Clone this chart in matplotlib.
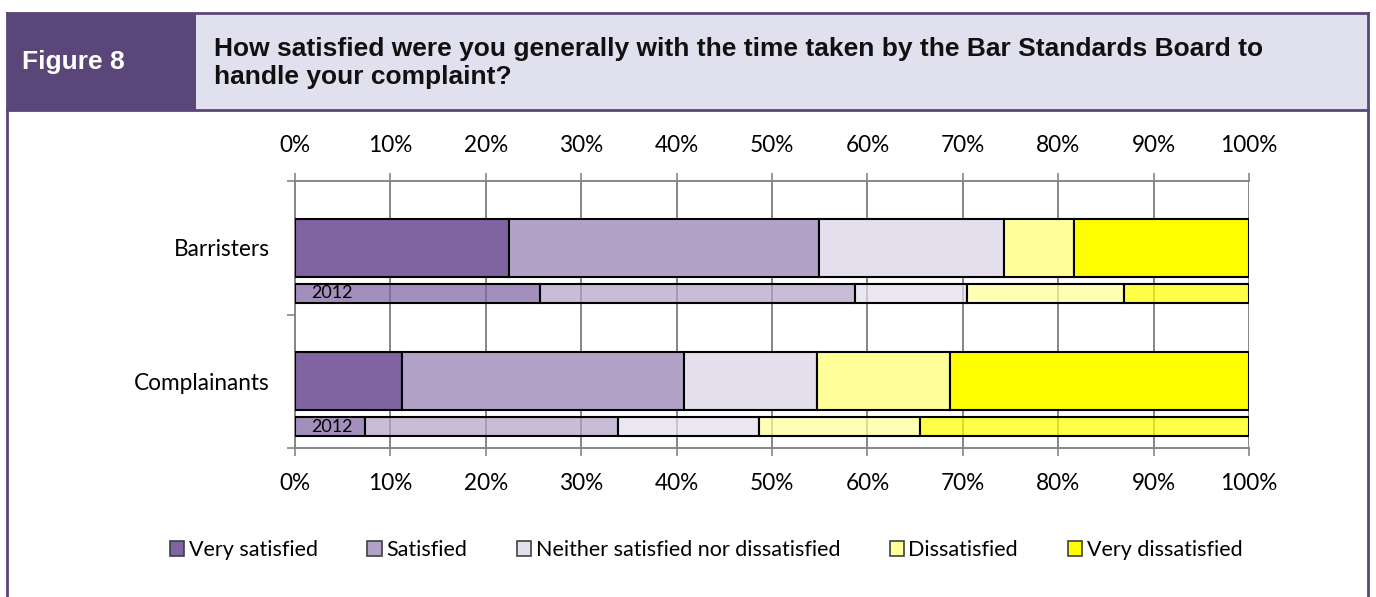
import numpy as np
import matplotlib
matplotlib.use('Agg')
import matplotlib.pyplot as plt
from matplotlib.patches import Rectangle, Patch
from matplotlib.colors import to_rgba

# Survey responses (% of respondents)
categories = ['Barristers', 'Complainants']
responses = ['Very satisfied', 'Satisfied', 'Neither satisfied nor dissatisfied',
             'Dissatisfied', 'Very dissatisfied']
current = {
    'Barristers': [22.4, 32.5, 19.4, 7.4, 18.3],
    'Complainants': [11.2, 29.6, 13.9, 14.0, 31.3],
}
year_2012 = {
    'Barristers': [25.7, 33.0, 11.7, 16.5, 13.1],
    'Complainants': [7.3, 26.6, 14.7, 16.9, 34.5],
}
colors = ['#8064A2', '#B3A2C7', '#E4DFEC', '#FFFF99', '#FFFF00']
fig_title = 'How satisfied were you generally with the time taken by the Bar Standards Board to\nhandle your complaint?'

W, H = 1376, 597
fig = plt.figure(figsize=(W / 100, H / 100), dpi=100)
purple = '#5B4679'

def fx(px):
    return px / W

def fy(py):
    return 1 - py / H

# header band and frame
fig.patches.append(Rectangle((fx(7), fy(110)), fx(189), fy(13) - fy(110),
                             transform=fig.transFigure, facecolor=purple, edgecolor='none'))
fig.patches.append(Rectangle((fx(196), fy(110)), fx(1172), fy(13) - fy(110),
                             transform=fig.transFigure, facecolor='#E1E0EE', edgecolor='none'))
for xs, ys in [((7, 1368), (13, 13)), ((7, 1368), (110, 110)),
               ((7, 7), (13, 600)), ((1368, 1368), (13, 600))]:
    fig.add_artist(plt.Line2D([fx(x) for x in xs], [fy(y) for y in ys],
                              transform=fig.transFigure, color=purple, lw=2))

fig.text(fx(22), fy(62), 'Figure 8', color='white', fontweight='bold',
         fontsize=19, family='Liberation Sans', va='center', ha='left')
fig.text(fx(214), fy(63), fig_title, color='#111111', fontweight='bold',
         fontsize=19, family='Liberation Sans', va='center', ha='left', linespacing=1.2)

# chart area
ax = fig.add_axes([fx(295), fy(448), fx(1249 - 295), fy(181) - fy(448)])
ax.set_xlim(0, 100)
ax.set_ylim(0, 2)

grid_c = '#868686'
ax.set_axisbelow(True)
ax.grid(axis='x', color=grid_c, lw=1.4)
ax.set_xticks(np.arange(0, 101, 10))
ax.set_xticklabels([f'{v}%' for v in range(0, 101, 10)])
ax.tick_params(axis='x', top=True, labeltop=True, bottom=True, labelbottom=True,
               direction='out', length=6, width=1.2, color=grid_c,
               labelsize=16.3, pad=12)
for lab in ax.get_xticklabels():
    lab.set_family('Lato')

for side in ['top', 'bottom', 'left']:
    ax.spines[side].set_color(grid_c)
    ax.spines[side].set_linewidth(1.4)
ax.spines['right'].set_visible(False)

cat_pos = [1.5, 0.5]
main_h = 0.435
old_off, old_h = -0.34, 0.142

for cat, yc in zip(categories, cat_pos):
    left = 0
    for val, c in zip(current[cat], colors):
        ax.barh(yc, val, left=left, height=main_h, color=c,
                edgecolor='black', lw=1.5, zorder=3)
        left += val
    left = 0
    for val, c in zip(year_2012[cat], colors):
        ax.barh(yc + old_off, val, left=left, height=old_h, color=to_rgba(c, 0.72),
                edgecolor='black', lw=1.5, zorder=3)
        left += val
    ax.text(1.7, yc + old_off, '2012', va='center', ha='left', fontsize=13,
            family='Lato', color='black', zorder=4)

ax.set_yticks([0, 1, 2], minor=True)
ax.set_yticks(cat_pos)
ax.set_yticklabels(categories, family='Lato', fontsize=16.3)
ax.tick_params(axis='y', which='major', length=0, pad=18)
ax.tick_params(axis='y', which='minor', length=6, width=1.2, color=grid_c)

handles = [Patch(facecolor=c, edgecolor='#404040', lw=1.2) for c in colors]
leg = fig.legend(handles, responses, loc='center', bbox_to_anchor=(fx(706), fy(550)),
                 ncol=5, frameon=False, handlelength=0.68, handleheight=0.68,
                 handletextpad=0.2, columnspacing=2.3, prop={'family': 'Lato', 'size': 15.5})

fig.savefig('out.png', dpi=100, facecolor='white')
